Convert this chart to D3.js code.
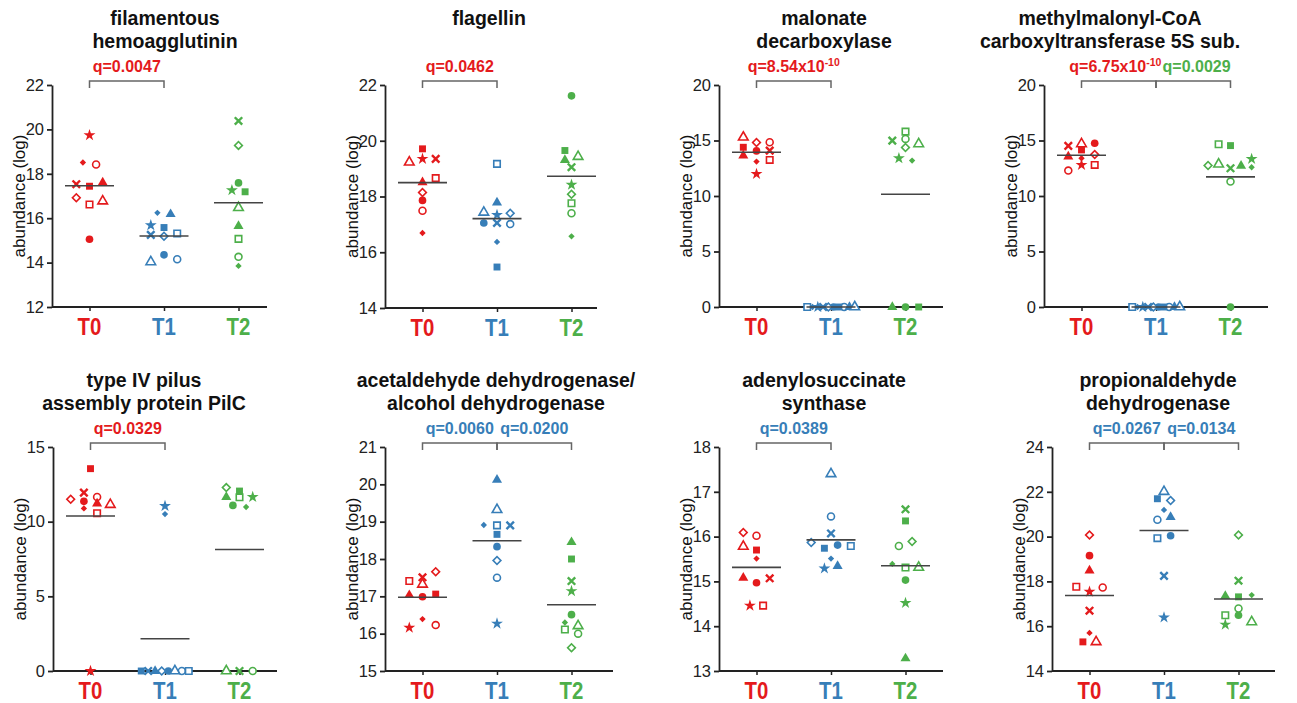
<!DOCTYPE html>
<html>
<head>
<meta charset="utf-8">
<script src="https://cdn.jsdelivr.net/npm/d3@7"></script>
<style>
  body { margin: 0; background: #fff; }
  svg text { font-family: "Liberation Sans", Arial, Helvetica, sans-serif; }
</style>
</head>
<body>
<div id="chart"></div>
<script>
// groups and per-subject markers (same subject keeps its marker across groups)
const groups = ["T0", "T1", "T2"];
const groupColors = ["#e41a1c", "#377eb8", "#4daf4a"];
const subjects = ["circle", "circleO", "square", "squareO", "triangle", "triangleO", "diamond", "diamondO", "star", "cross"];

const titles = [
  ["filamentous", "hemoagglutinin"],
  ["flagellin"],
  ["malonate", "decarboxylase"],
  ["methylmalonyl-CoA", "carboxyltransferase 5S sub."],
  ["type IV pilus", "assembly protein PilC"],
  ["acetaldehyde dehydrogenase/", "alcohol dehydrogenase"],
  ["adenylosuccinate", "synthase"],
  ["propionaldehyde", "dehydrogenase"]
];

const yDomains = [[12, 22], [14, 22], [0, 20], [0, 20], [0, 15], [15, 21], [13, 18], [14, 24]];
const yTicks = [
  [12, 14, 16, 18, 20, 22],
  [14, 16, 18, 20, 22],
  [0, 5, 10, 15, 20],
  [0, 5, 10, 15, 20],
  [0, 5, 10, 15],
  [15, 16, 17, 18, 19, 20, 21],
  [13, 14, 15, 16, 17, 18],
  [14, 16, 18, 20, 22, 24]
];

// values per group, in subject order
const filamentous = [
  [15.05, 18.42, 17.44, 16.62, 17.60, 16.77, 18.51, 16.92, 19.74, 17.53],
  [14.35, 14.15, 15.58, 15.31, 16.18, 14.03, 16.24, 15.19, 15.68, 15.25],
  [17.59, 14.26, 17.19, 15.07, 15.64, 16.47, 13.85, 19.28, 17.26, 20.38]
];
const flagellin = [
  [17.86, 17.49, 19.71, 18.66, 18.51, 19.23, 16.69, 18.14, 19.35, 19.35],
  [17.05, 17.01, 15.47, 19.17, 17.78, 17.43, 16.37, 17.40, 17.34, 17.05],
  [21.61, 17.40, 19.65, 17.76, 19.31, 19.43, 16.57, 18.08, 18.42, 19.05]
];
const malonate = [
  [14.06, 14.84, 14.39, 13.25, 13.64, 15.29, 13.10, 14.81, 11.99, 14.09],
  [0, 0, 0, 0, 0, 0, 0, 0, 0, 0],
  [0, 15.14, 0, 15.80, 0, 14.69, 13.19, 14.36, 13.40, 14.99]
];
const methylmalonyl = [
  [14.75, 12.29, 14.15, 12.80, 13.55, 14.69, 13.40, 13.73, 12.80, 14.51],
  [0, 0, 0, 0, 0, 0, 0, 0, 0, 0],
  [0, 11.30, 14.54, 14.66, 12.71, 12.86, 12.59, 12.74, 13.34, 12.50]
];
const pilus = [
  [11.36, 11.65, 13.55, 10.56, 11.21, 11.14, 10.89, 11.50, 0, 11.94],
  [0, 0, 0, 0, 0, 0, 10.51, 0, 11.05, 0],
  [11.09, 0, 12.05, 11.63, 11.65, 0, 10.98, 12.28, 11.65, 0]
];
const acetaldehyde = [
  [16.99, 16.23, 17.06, 17.41, 17.03, 17.32, 16.39, 17.66, 16.16, 17.51],
  [18.33, 17.50, 18.66, 18.90, 20.12, 19.32, 18.91, 17.96, 16.27, 18.90],
  [16.51, 16.00, 18.00, 16.11, 18.45, 16.21, 16.30, 15.62, 17.14, 17.41]
];
const adenylosuccinate = [
  [14.97, 16.02, 15.70, 14.46, 15.08, 15.78, 15.51, 16.09, 14.46, 15.07],
  [15.81, 16.45, 15.74, 15.79, 15.34, 17.40, 15.51, 15.87, 15.29, 16.07],
  [15.03, 15.79, 16.35, 15.31, 13.28, 15.31, 15.39, 15.89, 14.52, 16.61]
];
const propionaldehyde = [
  [19.15, 17.73, 15.30, 17.76, 18.48, 15.30, 15.70, 20.07, 17.54, 16.69],
  [20.04, 20.75, 21.69, 19.93, 20.87, 22.01, 21.19, 21.61, 16.39, 18.25],
  [16.49, 16.79, 17.31, 16.49, 17.34, 16.19, 17.39, 20.07, 16.07, 18.03]
];

// side-by-side dodge slot of each point inside its group (subject order)
const zeroRow = [0.4, 2.0, 1.2, -3.6, 2.8, 3.6, -2.8, -0.4, -2.0, -1.2];
const dodges = [
  [[0, 1, 0, 0, 2, 2, -1, -2, 0, -2], [0, 2, 0, 2, 1, -2, -1, 0, -2, -2], [0, 0, 1, 0, 0, 0, 0, 0, -1, 0]],
  [[0, 0, 0, 2, 0, -2, 0, 0, 0, 2], [-2, 2, 0, 0, 0, -2, 0, 2, 0, 0], [0, 0, -1, 0, -1, 1, 0, 0, 0, 0]],
  [[0, 2, -2, 2, -2, -2, 0, 0, 0, 2], zeroRow, [0, 0, 2, 0, -2, 2, 1, 0, -1, -2]],
  [[2, -2, 0, 2, -2, 0, 0, 2, 0, -2], zeroRow, [0, 0, 0, -1.8, 1.6, -1.8, 3.2, -3.4, 3.2, 0]],
  [[-1, 1, 0, 1, 1, 3, -1, -3, 0, -1], [0.5, 2.55, -3.6, 3.6, -1.5, 1.5, 0, -0.5, 0, -2.55], [-1, 2, 0, 0, -2, -2, 1, -2, 2, 0]],
  [[0, 2, 2, -2, -2, 0, 0, 2, -2, 0], [0, 0, 0, 0, 0, 0, -2, 0, 0, 2], [0, 1, 0, -1, 0, 1, -1, 0, 0, 0]],
  [[0, 0, 0, 1, -2, -2, 0, -2, -1, 2], [1, 0, -1, 3, 1, 0, 0, -3, -1, 0], [0, -1, 0, 0, 0, 2, -2, 1, 0, 0]],
  [[0, 2, -1, -2, 0, 1, 0, 0, 0, 0], [1, -1, -1, -1, 1, 0, 0, 1, 0, 0], [0, 0, 0, -2, -2, 2, 2, 0, -2, 0]]
];

const panelValues = [filamentous, flagellin, malonate, methylmalonyl, pilus, acetaldehyde, adenylosuccinate, propionaldehyde];

// q-value brackets: from group, to group, label, superscript, colour index
const comparisons = [
  [[0, 1, "q=0.0047", "", 0]],
  [[0, 1, "q=0.0462", "", 0]],
  [[0, 1, "q=8.54x10", "-10", 0]],
  [[0, 1, "q=6.75x10", "-10", 0], [1, 2, "q=0.0029", "", 2]],
  [[0, 1, "q=0.0329", "", 0]],
  [[0, 1, "q=0.0060", "", 1], [1, 2, "q=0.0200", "", 1]],
  [[0, 1, "q=0.0389", "", 1]],
  [[0, 1, "q=0.0267", "", 1], [1, 2, "q=0.0134", "", 1]]
];

// layout
const width = 1297, height = 703;
const layout = [
  { left: 52, len: 215, top: 85, bottom: 307, tx: 165 },
  { left: 385, len: 212, top: 85, bottom: 308, tx: 489 },
  { left: 719, len: 224, top: 85, bottom: 307, tx: 824 },
  { left: 1044, len: 224, top: 85, bottom: 307, tx: 1110 },
  { left: 53, len: 224, top: 447, bottom: 671, tx: 144 },
  { left: 385, len: 228, top: 447, bottom: 671, tx: 496 },
  { left: 719, len: 224, top: 447, bottom: 671, tx: 824 },
  { left: 1052, len: 223, top: 447, bottom: 671, tx: 1158 }
];
const slot = 6.6, halfMean = 24.5;

const svg = d3.select("#chart").append("svg")
  .attr("width", width).attr("height", height)
  .attr("viewBox", [0, 0, width, height]);

const symbolX = d3.symbolX || { draw(ctx, size) { const r = Math.sqrt(size) / 2.2; ctx.moveTo(-r, -r); ctx.lineTo(r, r); ctx.moveTo(-r, r); ctx.lineTo(r, -r); } };
const markers = {
  circle:    { type: d3.symbolCircle, size: 46, open: false },
  circleO:   { type: d3.symbolCircle, size: 38, open: true },
  square:    { type: d3.symbolSquare, size: 48, open: false },
  squareO:   { type: d3.symbolSquare, size: 42, open: true },
  triangle:  { type: d3.symbolTriangle, size: 44, open: false },
  triangleO: { type: d3.symbolTriangle, size: 40, open: true },
  diamond:   { type: d3.symbolSquare, size: 20, open: false, rot: 45 },
  diamondO:  { type: d3.symbolSquare, size: 30, open: true, rot: 45 },
  star:      { type: d3.symbolStar, size: 44, open: false },
  cross:     { type: symbolX, size: 38, stroke: true }
};

panelValues.forEach((vals, p) => {
  const L = layout[p];
  const g = svg.append("g").attr("class", "panel");

  const x = d3.scalePoint().domain(groups).range([L.left + 37.5, L.left + 37.5 + 149]);
  const y = d3.scaleLinear().domain(yDomains[p]).range([L.bottom, L.top]);

  // title
  titles[p].forEach((t, i) => {
    g.append("text")
      .attr("x", L.tx).attr("y", L.top - 60 + i * 23)
      .attr("text-anchor", "middle")
      .style("font-size", "19.5px").style("font-weight", "bold").style("fill", "#111")
      .text(t);
  });

  // y axis
  const ya = g.append("g")
    .attr("transform", `translate(${L.left},0)`)
    .call(d3.axisLeft(y).tickValues(yTicks[p]).tickFormat(d3.format("d"))
      .tickSize(5).tickSizeOuter(0).tickPadding(3));
  ya.selectAll("text").style("font-size", "16.5px").style("fill", "#222");
  ya.selectAll("line, path").attr("stroke", "#222").attr("stroke-width", 1.8);

  g.append("text")
    .attr("transform", "rotate(-90)")
    .attr("x", -(L.top + L.bottom) / 2).attr("y", L.left - 27)
    .attr("text-anchor", "middle")
    .style("font-size", "17px").style("fill", "#111")
    .text("abundance (log)");

  // x axis
  const xa = g.append("g")
    .attr("transform", `translate(0,${L.bottom})`)
    .call(d3.axisBottom(x).tickSize(4).tickFormat(""));
  xa.select(".domain").remove();
  xa.selectAll("line").attr("stroke", "#222").attr("stroke-width", 1.5);
  g.append("line")
    .attr("x1", L.left).attr("x2", L.left + L.len)
    .attr("y1", L.bottom).attr("y2", L.bottom)
    .attr("stroke", "#222").attr("stroke-width", 1.8);

  groups.forEach((gr, gi) => {
    g.append("text")
      .attr("transform", `translate(${x(gr)},${L.bottom + 28}) scale(0.85,1)`)
      .attr("text-anchor", "middle")
      .style("font-size", "24px").style("font-weight", "bold")
      .style("fill", groupColors[gi])
      .text(gr);
  });

  // brackets
  const labels = [];
  comparisons[p].forEach(([a, b, label, sup, ci]) => {
    const xa0 = x(groups[a]), xb0 = x(groups[b]), yt = L.top - 4;
    g.append("path")
      .attr("d", `M${xa0},${yt + 7}V${yt}H${xb0}V${yt + 7}`)
      .attr("fill", "none").attr("stroke", "#666").attr("stroke-width", 1.5);
    const t = g.append("text")
      .attr("x", (xa0 + xb0) / 2).attr("y", L.top - 13)
      .attr("text-anchor", "middle")
      .style("font-size", "16px").style("font-weight", "bold")
      .style("fill", groupColors[ci]);
    t.append("tspan").text(label);
    if (sup) t.append("tspan").attr("dy", -6).style("font-size", "10.5px").text(sup);
    labels.push(t);
  });
  // neighbouring labels just touch in the source; nudge them apart if they collide
  if (labels.length === 2) {
    const b0 = labels[0].node().getBBox(), b1 = labels[1].node().getBBox();
    const overlap = b0.x + b0.width - b1.x + 1;
    if (overlap > 0) {
      labels[0].attr("x", +labels[0].attr("x") - overlap / 2);
      labels[1].attr("x", +labels[1].attr("x") + overlap / 2);
    }
  }

  // points
  vals.forEach((row, gi) => {
    const col = groupColors[gi];
    const pts = row.map((v, si) => ({ v, m: subjects[si], d: dodges[p][gi][si] }));
    g.append("g").selectAll("path")
      .data(pts)
      .join("path")
      .attr("transform", d => `translate(${x(groups[gi]) + d.d * slot},${y(d.v)}) rotate(${markers[d.m].rot || 0})`)
      .attr("d", d => d3.symbol(markers[d.m].type, markers[d.m].size)())
      .attr("fill", d => markers[d.m].stroke ? "none" : (markers[d.m].open ? "#fff" : col))
      .attr("stroke", d => (markers[d.m].open || markers[d.m].stroke) ? col : "none")
      .attr("stroke-width", d => markers[d.m].stroke ? 2.4 : 1.6);

    const mean = d3.mean(row);
    g.append("line")
      .attr("x1", x(groups[gi]) - halfMean).attr("x2", x(groups[gi]) + halfMean)
      .attr("y1", y(mean)).attr("y2", y(mean))
      .attr("stroke", "#444").attr("stroke-width", 1.6);
  });
});
</script>
</body>
</html>
